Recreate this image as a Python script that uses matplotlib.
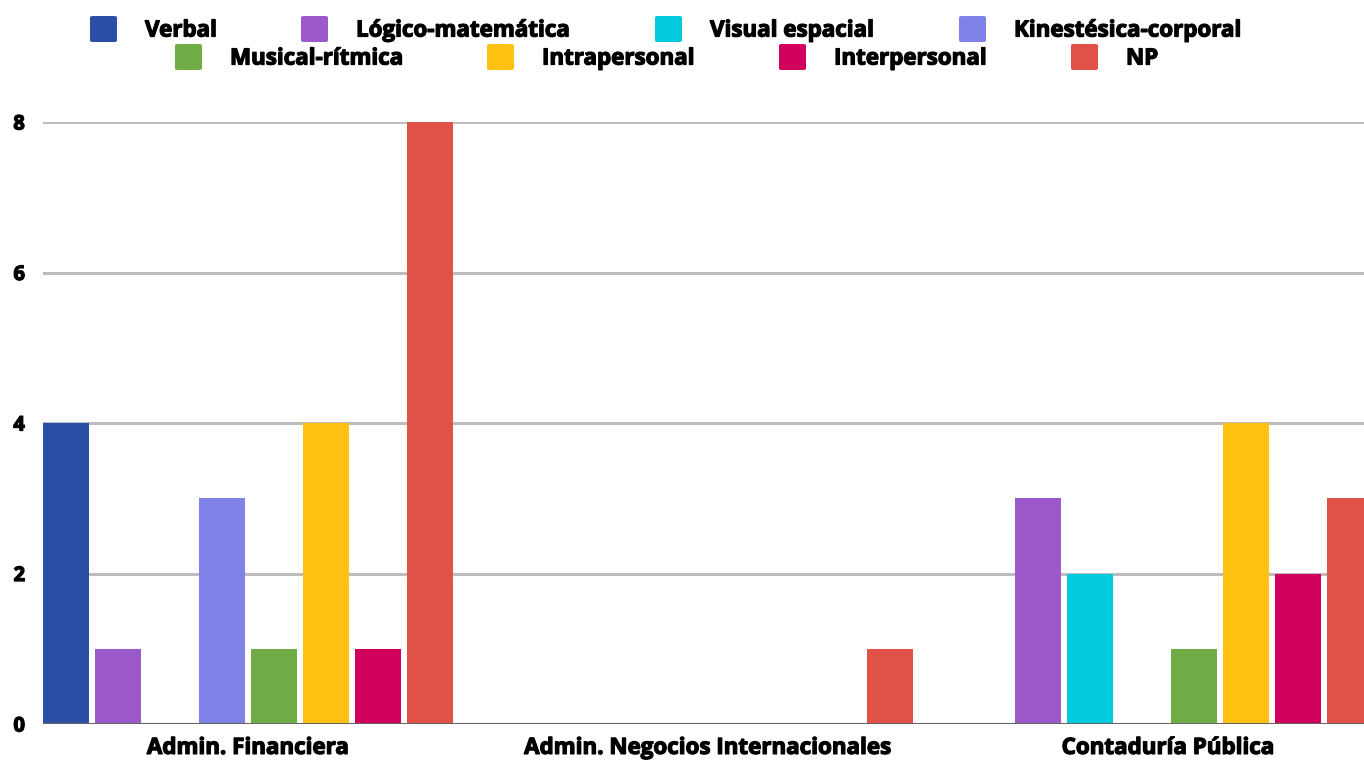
import numpy as np
import matplotlib.pyplot as plt
from matplotlib.patches import FancyBboxPatch
import matplotlib.patheffects as pe

plt.rcParams['font.family'] = ['Open Sans', 'DejaVu Sans']

categories = ['Admin. Financiera', 'Admin. Negocios Internacionales', 'Contaduría Pública']
series_names = ['Verbal', 'Lógico-matemática', 'Visual espacial', 'Kinestésica-corporal',
                'Musical-rítmica', 'Intrapersonal', 'Interpersonal', 'NP']
verbal = [4, 0, 0]
logico = [1, 0, 3]
visual = [0, 0, 2]
kinestesica = [3, 0, 0]
musical = [1, 0, 1]
intrapersonal = [4, 0, 4]
interpersonal = [1, 0, 2]
np_vals = [8, 1, 3]
y_ticks = [0, 2, 4, 6, 8]

series_values = [verbal, logico, visual, kinestesica, musical, intrapersonal, interpersonal, np_vals]
colors = ['#2A4FA4', '#9B59CB', '#00CADB', '#7F82E6', '#70AD47', '#FFC112', '#D0005C', '#E05248']

W, H = 1364, 760
fig = plt.figure(figsize=(W / 100, H / 100), dpi=100)
ax = fig.add_axes([43 / W, 36 / H, (1373 - 43) / W, 602 / H])

# a thin stroke makes the bold a bit heavier, like the original
heavy = [pe.withStroke(linewidth=0.9, foreground='black')]

x = np.arange(len(categories))
step = 0.113
bw = 0.1
for i, (vals, col) in enumerate(zip(series_values, colors)):
    off = (i - 3.5) * step
    for xi, v in zip(x, vals):
        if v == 0:
            continue
        ax.bar(xi + off, v, width=bw, color=col, zorder=3, linewidth=0)

ax.set_xlim(-0.4457, 2.4457)
ax.set_ylim(0, 8)
ax.set_yticks(y_ticks)
ax.set_yticklabels([str(t) for t in y_ticks], fontsize=14.5, fontweight='bold')
ax.set_xticks(x)
ax.set_xticklabels(categories, fontsize=16.1, fontweight='bold')
for lab in ax.get_xticklabels() + ax.get_yticklabels():
    lab.set_path_effects(heavy)
ax.tick_params(axis='y', length=0, pad=13)
ax.tick_params(axis='x', length=0, pad=10)
ax.grid(axis='y', color='#BDBDBD', linewidth=2.2, zorder=0)
ax.axhline(0, color='#666666', linewidth=2.2, zorder=4)
for s in ax.spines.values():
    s.set_visible(False)
ax.set_axisbelow(True)

# legend drawn by hand, two rows like the original
row1_x = [90, 301, 655, 959]
row2_x = [175, 487, 779, 1071]
row_y = [29, 57]
box_x = row1_x + row2_x
box_y = [row_y[0]] * 4 + [row_y[1]] * 4
for name, col, bx, by in zip(series_names, colors, box_x, box_y):
    fig.patches.append(FancyBboxPatch((bx / W, 1 - (by + 13) / H), 27 / W, 26 / H,
                                      boxstyle='round,pad=0,rounding_size=0.002',
                                      transform=fig.transFigure, facecolor=col,
                                      edgecolor='none', figure=fig))
    fig.text((bx + 55) / W, 1 - (by + 2) / H, name, fontsize=16.1, fontweight='bold',
             va='center', ha='left', path_effects=heavy)

fig.savefig('out.png', dpi=100)
